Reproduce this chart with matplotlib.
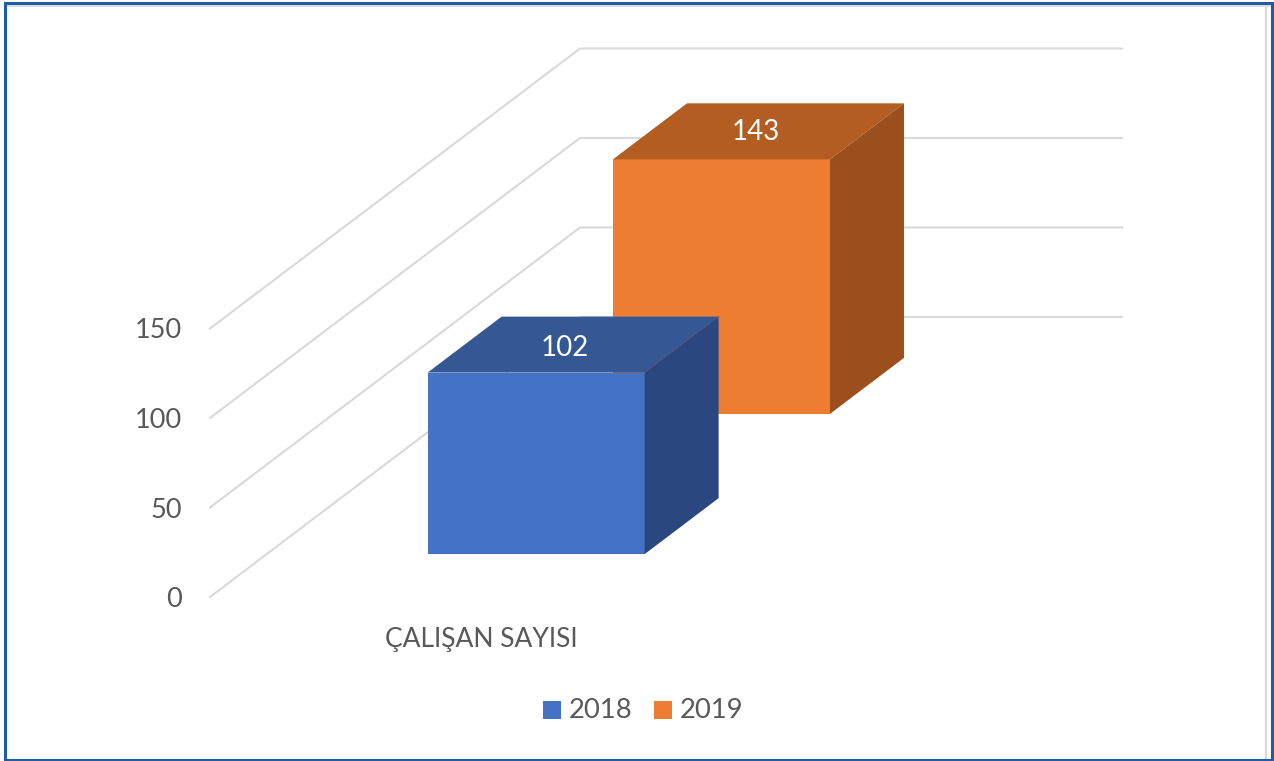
import matplotlib
matplotlib.use('Agg')
import matplotlib.pyplot as plt
from matplotlib.patches import Polygon, Rectangle

years = ['2018', '2019']
values = [102, 143]
category = 'ÇALIŞAN SAYISI'
y_ticks = [0, 50, 100, 150]

front_colors = ['#4472C4', '#ED7D31']
top_colors = ['#355895', '#B35D22']
side_colors = ['#2B4780', '#9A4F1C']
text_color = '#595959'
grid_color = '#D9D9D9'
plt.rcParams['font.family'] = ['Lato', 'DejaVu Sans']

# oblique projection, all in image pixels
X0, Y0 = 210, 597
PX_PER_UNIT = 1.79
BAR_PX_PER_UNIT = 1.78
DEPTH_DX, DEPTH_DY = 370, -280
GRID_RIGHT = 1122
BAR_X = 371
BAR_W = 217
BAR_DEPTH = 0.2
depth_pos = [0.153, 0.654]
label_dx = [-8.5, -2.5]
label_dy = [3.5, 1]


def project(x, val, depth, scale=PX_PER_UNIT):
    return x + DEPTH_DX * depth, Y0 - val * scale + DEPTH_DY * depth


fig = plt.figure(figsize=(12.74, 7.61), dpi=100)
ax = fig.add_axes([0, 0, 1, 1])
ax.set_xlim(0, 1274)
ax.set_ylim(761, 0)
ax.axis('off')

# frame
ax.plot([1266, 1266], [6, 761], color='#D9D9D9', lw=1.6, zorder=1)
ax.plot([7, 1270], [6, 6], color='#D9D9D9', lw=1.2, zorder=1)
ax.add_patch(Rectangle((5, 3), 1267, 757, fill=False, ec='#1F5CA8', lw=2.2, zorder=2))

# gridlines
for t in y_ticks:
    x1, y1 = project(X0, t, 0)
    x2, y2 = project(X0, t, 1)
    ax.plot([x1, x2, GRID_RIGHT], [y1, y2, y2], color=grid_color, lw=1.5,
            solid_joinstyle='miter', zorder=3)
    ax.text(182, y1, str(t), ha='right', va='center_baseline', fontsize=19.5,
            color=text_color, zorder=3)

# bars, back one first
for i in reversed(range(len(values))):
    d = depth_pos[i]
    v = values[i]
    s = BAR_PX_PER_UNIT
    a = project(BAR_X, 0, d, s)
    b = project(BAR_X + BAR_W, 0, d, s)
    c = project(BAR_X + BAR_W, v, d, s)
    e = project(BAR_X, v, d, s)
    c2 = project(BAR_X + BAR_W, v, d + BAR_DEPTH, s)
    e2 = project(BAR_X, v, d + BAR_DEPTH, s)
    b2 = project(BAR_X + BAR_W, 0, d + BAR_DEPTH, s)
    z = 5 + (len(values) - i)
    ax.add_patch(Polygon([a, b, c, e], fc=front_colors[i], ec='none', zorder=z))
    ax.add_patch(Polygon([e, c, c2, e2], fc=top_colors[i], ec='none', zorder=z))
    ax.add_patch(Polygon([b, b2, c2, c], fc=side_colors[i], ec='none', zorder=z))
    ax.text((e[0] + c2[0]) / 2 + label_dx[i], (e[1] + c2[1]) / 2 + label_dy[i], str(v),
            ha='center', va='center', fontsize=20, color='white', zorder=z + 1)

# category label
ax.text(481, 640, category, ha='center', va='center', fontsize=19, color=text_color)

# legend
legend_x = [543, 654]
for i, year in enumerate(years):
    ax.add_patch(Rectangle((legend_x[i], 701), 18, 18, fc=front_colors[i], ec='none'))
    ax.text(legend_x[i] + 26, 711, year, ha='left', va='center', fontsize=19.7, color=text_color)

fig.savefig('out.png', dpi=100)
